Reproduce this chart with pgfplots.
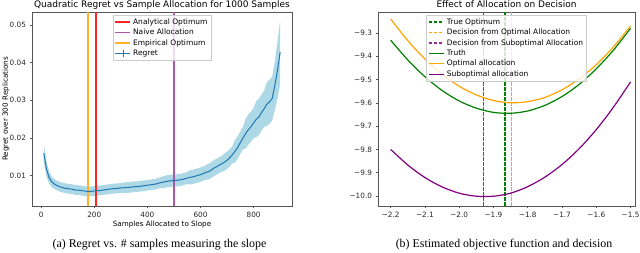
\documentclass[border=0pt]{standalone}
\usepackage{pgfplots}
\pgfplotsset{compat=1.18}
\usepackage{pgfplotstable}
\usepackage{fontspec}
\setmainfont{Liberation Serif}
\newfontfamily\dejavu{DejaVu Sans}
\definecolor{tabblue}{HTML}{1F77B4}
\definecolor{bandblue}{HTML}{ADD8E6}
\definecolor{mplgreen}{HTML}{008000}
\definecolor{mplorange}{HTML}{FFA500}
\definecolor{mplpurple}{HTML}{800080}
\definecolor{dashpurple}{HTML}{9A2A9A}
\definecolor{legframe}{HTML}{CCCCCC}
\definecolor{spine}{HTML}{555555}

\pgfplotstableread{
x y
10 0.0160
20 0.0118
30 0.0095
40 0.0084
50 0.0078
60 0.0074
70 0.0071
80 0.0069
90 0.0067
100 0.0066
110 0.0065
120 0.0064
130 0.0062
140 0.0062
150 0.0061
160 0.0060
170 0.0059
180 0.0058
190 0.0059
200 0.0060
210 0.0061
220 0.0061
230 0.0062
240 0.0063
250 0.0064
260 0.0065
270 0.0066
280 0.0066
290 0.0067
300 0.0068
310 0.0068
320 0.0069
330 0.0069
340 0.0070
350 0.0071
360 0.0071
370 0.0072
380 0.0073
390 0.0074
400 0.0075
410 0.0076
420 0.0077
430 0.0078
440 0.0080
450 0.0082
460 0.0083
470 0.0085
480 0.0086
490 0.0087
500 0.0088
510 0.0088
520 0.0089
530 0.0090
540 0.0092
550 0.0094
560 0.0096
570 0.0097
580 0.0099
590 0.0101
600 0.0103
610 0.0106
620 0.0109
630 0.0111
640 0.0115
650 0.0120
660 0.0124
670 0.0128
680 0.0132
690 0.0136
700 0.0141
710 0.0148
720 0.0156
730 0.0165
740 0.0175
750 0.0188
760 0.0200
770 0.0212
780 0.0222
790 0.0230
800 0.0240
810 0.0250
820 0.0256
830 0.0268
840 0.0278
850 0.0290
860 0.0296
870 0.0305
880 0.0340
890 0.0380
900 0.0428
}\regret

% band: upper edge left to right, then lower edge right to left
\pgfplotstableread{
x b
10 0.0185
20 0.0138
30 0.0111
40 0.0098
50 0.0091
60 0.0087
70 0.0084
80 0.0082
90 0.0080
100 0.0079
110 0.0078
120 0.0077
130 0.0075
140 0.0075
150 0.0074
160 0.0073
170 0.0072
180 0.0071
190 0.0072
200 0.0073
210 0.0074
220 0.0074
230 0.0075
240 0.0076
250 0.0077
260 0.0078
270 0.0079
280 0.0079
290 0.0080
300 0.0081
310 0.0082
320 0.0083
330 0.0083
340 0.0084
350 0.0085
360 0.0085
370 0.0086
380 0.0087
390 0.0088
400 0.0089
410 0.0090
420 0.0091
430 0.0092
440 0.0094
450 0.0096
460 0.0099
470 0.0101
480 0.0102
490 0.0103
500 0.0104
510 0.0104
520 0.0105
530 0.0106
540 0.0108
550 0.0110
560 0.0115
570 0.0116
580 0.0118
590 0.0120
600 0.0122
610 0.0125
620 0.0128
630 0.0132
640 0.0136
650 0.0141
660 0.0145
670 0.0149
680 0.0153
690 0.0159
700 0.0164
710 0.0171
720 0.0179
730 0.0195
740 0.0205
750 0.0218
760 0.0230
770 0.0252
780 0.0262
790 0.0270
800 0.0280
810 0.0298
820 0.0304
830 0.0316
840 0.0326
850 0.0348
860 0.0354
870 0.0363
880 0.0405
890 0.0455
900 0.0513
900 0.0343
890 0.0305
880 0.0275
870 0.0247
860 0.0238
850 0.0232
840 0.0230
830 0.0220
820 0.0208
810 0.0202
800 0.0200
790 0.0190
780 0.0182
770 0.0172
760 0.0170
750 0.0158
740 0.0145
730 0.0135
720 0.0133
710 0.0125
700 0.0118
690 0.0113
680 0.0111
670 0.0107
660 0.0103
650 0.0099
640 0.0094
630 0.0090
620 0.0090
610 0.0087
600 0.0084
590 0.0082
580 0.0080
570 0.0078
560 0.0077
550 0.0078
540 0.0076
530 0.0074
520 0.0073
510 0.0072
500 0.0072
490 0.0071
480 0.0070
470 0.0069
460 0.0067
450 0.0068
440 0.0066
430 0.0064
420 0.0063
410 0.0062
400 0.0061
390 0.0060
380 0.0059
370 0.0058
360 0.0057
350 0.0057
340 0.0056
330 0.0055
320 0.0055
310 0.0054
300 0.0055
290 0.0054
280 0.0053
270 0.0053
260 0.0052
250 0.0051
240 0.0050
230 0.0049
220 0.0048
210 0.0048
200 0.0047
190 0.0046
180 0.0045
170 0.0046
160 0.0047
150 0.0048
140 0.0049
130 0.0049
120 0.0051
110 0.0052
100 0.0053
90 0.0054
80 0.0056
70 0.0058
60 0.0061
50 0.0065
40 0.0070
30 0.0079
20 0.0098
10 0.0135
}\band

\pgfplotstableread{
x truth opt sub
-2.20 -9.331 -9.240 -9.800
-2.15 -9.416 -9.333 -9.867
-2.10 -9.488 -9.412 -9.921
-2.05 -9.547 -9.477 -9.961
-2.00 -9.592 -9.529 -9.988
-1.95 -9.623 -9.566 -10.001
-1.90 -9.641 -9.590 -10.001
-1.85 -9.645 -9.600 -9.988
-1.80 -9.635 -9.595 -9.960
-1.75 -9.611 -9.577 -9.919
-1.70 -9.573 -9.544 -9.865
-1.65 -9.521 -9.497 -9.797
-1.60 -9.454 -9.436 -9.715
-1.55 -9.374 -9.360 -9.619
-1.50 -9.280 -9.270 -9.510
}\curves

\pgfplotsset{
  mplaxis/.style={
    scale only axis,
    axis line style={spine, line width=0.6pt},
    tick style={spine, line width=0.6pt},
    tick align=outside,
    major tick length=2.5pt,
    xtick pos=bottom, ytick pos=left,
    tick label style={font=\dejavu\fontsize{7.3}{8}\selectfont, text=black!85},
    every axis title/.style={font=\dejavu\fontsize{9}{10}\selectfont, at={(axis description cs:0.5,1)}, anchor=base, yshift=4.4pt, inner sep=0pt},
    every axis y label/.style={font=\dejavu\fontsize{7.2}{8}\selectfont, at={(axis description cs:-0.10,0.5)}, rotate=90, anchor=center, inner sep=0pt},
    every axis x label/.style={font=\dejavu\fontsize{7.2}{8}\selectfont, at={(axis description cs:0.5,0)}, anchor=center, yshift=-19pt, inner sep=0pt},
    legend style={draw=legframe, fill=white, fill opacity=0.8, text opacity=1, inner sep=1.5pt, row sep=-0.8pt, cells={anchor=west}, at={(0.5,0.985)}, anchor=north, nodes={font=\dejavu\fontsize{7.5}{8.5}\selectfont}},
    legend cell align=left,
    legend image code/.code={\draw[##1] (0pt,0pt) -- (15pt,0pt);},
  }
}

\begin{document}
\begin{tikzpicture}
\useasboundingbox (0pt,0pt) rectangle (640pt,253pt);

\begin{axis}[mplaxis,
  at={(32pt,47pt)}, anchor=south west,
  width=260pt, height=194pt,
  xmin=-34.5, xmax=944.5, ymin=0.002, ymax=0.0534,
  xtick={0,200,400,600,800},
  xticklabels={0,200,400,600,800},
  ytick={0.01,0.02,0.03,0.04,0.05},
  yticklabels={0.01,0.02,0.03,0.04,0.05},
  scaled y ticks=false,
  title={Quadratic Regret vs Sample Allocation for 1000 Samples},
  xlabel={Samples Allocated to Slope},
  ylabel={Regret over 300 Replications},
]
\addplot[fill=bandblue, draw=none, forget plot] table[x=x, y=b] {\band} -- cycle;
\addplot[red!85, line width=1.5pt] coordinates {(207,0.002) (207,0.0534)};
\addlegendentry{Analytical Optimum}
\addplot[mplpurple!65, line width=1.5pt] coordinates {(500,0.002) (500,0.0534)};
\addlegendentry{Naive Allocation}
\addplot[mplorange!85, line width=1.5pt] coordinates {(176,0.002) (176,0.0534)};
\addlegendentry{Empirical Optimum}
\addplot[tabblue, line width=1pt, legend image code/.code={\draw[tabblue, line width=1pt] (0pt,0pt) -- (15pt,0pt); \draw[tabblue, line width=0.7pt] (7.5pt,-3.5pt) -- (7.5pt,3.5pt);}] table[x=x, y=y] {\regret};
\addlegendentry{Regret}
\end{axis}

\begin{axis}[mplaxis,
  at={(378pt,47pt)}, anchor=south west,
  width=257pt, height=194pt,
  xmin=-2.237, xmax=-1.487, ymin=-10.043, ymax=-9.21,
  xtick={-2.2,-2.1,-2.0,-1.9,-1.8,-1.7,-1.6,-1.5},
  xticklabels={−2.2,−2.1,−2.0,−1.9,−1.8,−1.7,−1.6,−1.5},
  ytick={-10.0,-9.9,-9.8,-9.7,-9.6,-9.5,-9.4,-9.3},
  yticklabels={−10.0,−9.9,−9.8,−9.7,−9.6,−9.5,−9.4,−9.3},
  title={Effect of Allocation on Decision},
]
\addplot[mplgreen, line width=2pt, dash pattern=on 3.5pt off 1.5pt] coordinates {(-1.867,-10.043) (-1.867,-9.21)};
\addlegendentry{True Optimum}
\addplot[mplorange, line width=1.2pt, dash pattern=on 3.5pt off 1.5pt] coordinates {(-1.848,-10.043) (-1.848,-9.21)};
\addlegendentry{Decision from Optimal Allocation}
\addplot[dashpurple, line width=1.2pt, dash pattern=on 3.5pt off 1.5pt] coordinates {(-1.930,-10.043) (-1.930,-9.21)};
\addlegendentry{Decision from Suboptimal Allocation}
\addplot[mplgreen, line width=1.2pt, smooth] table[x=x, y=truth] {\curves};
\addlegendentry{Truth}
\addplot[mplorange, line width=1.2pt, smooth] table[x=x, y=opt] {\curves};
\addlegendentry{Optimal allocation}
\addplot[mplpurple, line width=1.2pt, smooth] table[x=x, y=sub] {\curves};
\addlegendentry{Suboptimal allocation}
\end{axis}

\node[font=\fontsize{11.9}{13}\selectfont] at (159.5pt,8.5pt) {(a) Regret vs. \# samples measuring the slope};
\node[font=\fontsize{11.9}{13}\selectfont] at (504pt,8.5pt) {(b) Estimated objective function and decision};
\end{tikzpicture}
\end{document}
